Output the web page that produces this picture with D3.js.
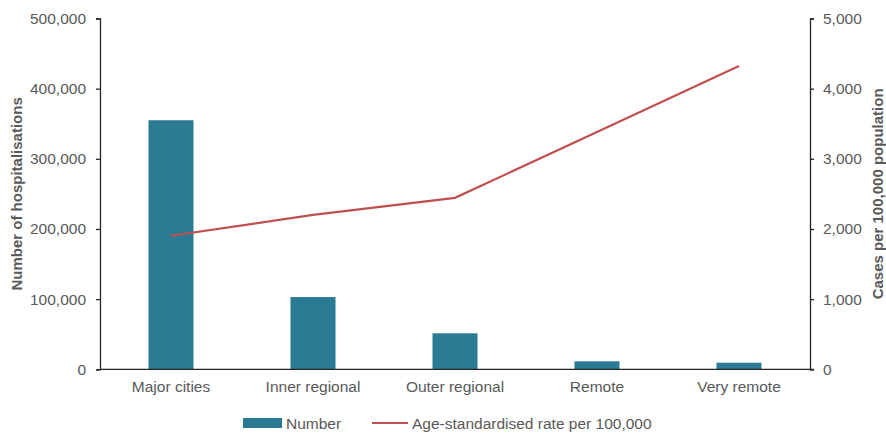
<!DOCTYPE html>
<html>
<head>
<meta charset="utf-8">
<script src="https://cdn.jsdelivr.net/npm/d3@7"></script>
<style>
  html, body { margin: 0; padding: 0; background: #fff; }
  svg { display: block; font-family: Arial, "Liberation Sans", sans-serif; }
</style>
</head>
<body>
<svg id="chart" width="886" height="435"></svg>
<script>
// Hospitalisations by remoteness area
const categories = ["Major cities", "Inner regional", "Outer regional", "Remote", "Very remote"];
const hospitalisations = [355000, 103000, 51300, 11400, 9400];
const ratePer100k = [1903, 2201, 2444, 3382, 4324];
const leftTicks = [0, 100000, 200000, 300000, 400000, 500000];
const rightTicks = [0, 1000, 2000, 3000, 4000, 5000];

const W = 886, H = 435;
const margin = { top: 18.5, right: 76, bottom: 65.7, left: 100 };
const innerW = W - margin.left - margin.right;
const innerH = H - margin.top - margin.bottom;

const barColor = "#2b7b94";
const lineColor = "#c0504d";
const textColor = "#595959";
const axisColor = "#262626";
const fontSize = "15.5px";

const svg = d3.select("#chart");
const g = svg.append("g").attr("transform", `translate(${margin.left},${margin.top})`);

const x = d3.scaleBand().domain(categories).range([0, innerW]).paddingInner(0.683).paddingOuter(0.3415);
const yL = d3.scaleLinear().domain([0, 500000]).range([innerH, 0]);
const yR = d3.scaleLinear().domain([0, 5000]).range([innerH, 0]);
const fmt = d3.format(",");

// bars
g.selectAll("rect.bar").data(categories).join("rect")
  .attr("class", "bar")
  .attr("x", d => x(d))
  .attr("width", x.bandwidth())
  .attr("y", (d, i) => yL(hospitalisations[i]))
  .attr("height", (d, i) => innerH - yL(hospitalisations[i]))
  .attr("fill", barColor);

// rate line
const line = d3.line()
  .x((d, i) => x(categories[i]) + x.bandwidth() / 2)
  .y(d => yR(d));
g.append("path").datum(ratePer100k)
  .attr("d", line)
  .attr("fill", "none")
  .attr("stroke", lineColor)
  .attr("stroke-width", 2.2);

// axes
function styleAxis(sel) {
  sel.select(".domain").attr("stroke", axisColor).attr("stroke-width", 1.3);
  sel.selectAll(".tick line").attr("stroke", axisColor).attr("stroke-width", 1.3);
  sel.selectAll(".tick text").attr("fill", textColor).attr("font-size", fontSize);
}

const axL = g.append("g")
  .call(d3.axisLeft(yL).tickValues(leftTicks).tickFormat(fmt).tickSize(4).tickSizeOuter(4).tickPadding(10));
styleAxis(axL);

const axR = g.append("g").attr("transform", `translate(${innerW},0)`)
  .call(d3.axisRight(yR).tickValues(rightTicks).tickFormat(fmt).tickSize(4).tickSizeOuter(4).tickPadding(9));
styleAxis(axR);

const axB = g.append("g").attr("transform", `translate(0,${innerH})`)
  .call(d3.axisBottom(x).tickSize(0).tickPadding(12));
styleAxis(axB);
axB.select(".domain").attr("d", `M0,0H${innerW + 4}`);

// axis titles
svg.append("text")
  .attr("transform", `translate(22,${margin.top + innerH / 2}) rotate(-90)`)
  .attr("text-anchor", "middle")
  .attr("fill", textColor)
  .attr("font-size", "15px")
  .attr("font-weight", "bold")
  .text("Number of hospitalisations");

svg.append("text")
  .attr("transform", `translate(883,${margin.top + innerH / 2}) rotate(-90)`)
  .attr("text-anchor", "middle")
  .attr("fill", textColor)
  .attr("font-size", "15px")
  .attr("font-weight", "bold")
  .text("Cases per 100,000 population");

// legend
const leg = svg.append("g").attr("transform", "translate(243,423)");
leg.append("rect").attr("x", 0).attr("y", -5).attr("width", 39).attr("height", 10).attr("fill", barColor);
leg.append("text").attr("x", 43).attr("y", 5.5).attr("fill", textColor).attr("font-size", fontSize).text("Number");
leg.append("line").attr("x1", 129).attr("x2", 165).attr("y1", 0).attr("y2", 0)
  .attr("stroke", lineColor).attr("stroke-width", 2.2);
leg.append("text").attr("x", 169).attr("y", 5.5).attr("fill", textColor).attr("font-size", fontSize)
  .text("Age-standardised rate per 100,000");
</script>
</body>
</html>
